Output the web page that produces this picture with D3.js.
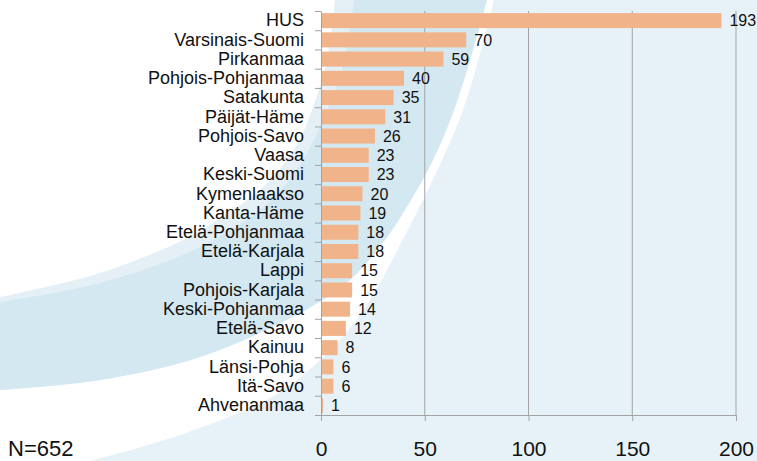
<!DOCTYPE html>
<html>
<head>
<meta charset="utf-8">
<script src="https://cdn.jsdelivr.net/npm/d3@7"></script>
<style>
  body { margin: 0; background: #fff; }
  text { font-family: "Liberation Sans", Arial, sans-serif; fill: #111; }
</style>
</head>
<body>
<div id="chart"></div>
<script>
let width = 757, height = 461;

// data
const regions = ["HUS", "Varsinais-Suomi", "Pirkanmaa", "Pohjois-Pohjanmaa", "Satakunta",
  "Päijät-Häme", "Pohjois-Savo", "Vaasa", "Keski-Suomi", "Kymenlaakso", "Kanta-Häme",
  "Etelä-Pohjanmaa", "Etelä-Karjala", "Lappi", "Pohjois-Karjala", "Keski-Pohjanmaa",
  "Etelä-Savo", "Kainuu", "Länsi-Pohja", "Itä-Savo", "Ahvenanmaa"];
const counts = [193, 70, 59, 40, 35, 31, 26, 23, 23, 20, 19, 18, 18, 15, 15, 14, 12, 8, 6, 6, 1];
const xTicks = [0, 50, 100, 150, 200];
const totalLabel = "N=652";

let svg = d3.select("#chart").append("svg")
    .attr("width", width)
    .attr("height", height);

// background swooshes
let curve = d3.line().curve(d3.curveCatmullRom);
function band(a, b) {
  // a forward, b backward, closed
  let p1 = curve(a);
  let p2 = curve(b.slice().reverse());
  return p1 + "L" + p2.slice(1) + "Z";
}

svg.append("rect").attr("width", width).attr("height", height).attr("fill", "#e7f2f8");

let outer = [[494, 0], [481, 50], [463, 110], [442, 160], [418, 210], [400, 245], [376, 290],
  [350, 328], [318, 362], [270, 398], [180, 435], [90, 461]];
svg.append("path")
    .attr("d", curve(outer) + "L0,461L0,0Z")
    .attr("fill", "#ffffff");

let whiteEdge = [[335, 0], [327, 60], [312, 110], [294, 150], [260, 190], [222, 217],
  [183, 240], [100, 273], [0, 297]];
let darkIn = [[354, 0], [342, 70], [323, 120], [300, 165], [268, 203], [200, 247],
  [100, 283], [0, 302]];
let darkOut = [[487, 0], [473, 50], [454, 110], [433, 160], [408, 205], [385, 240],
  [350, 280], [300, 313], [200, 357], [100, 380], [0, 390]];

svg.append("path").attr("d", band(whiteEdge, darkOut)).attr("fill", "#e4f0f6");
svg.append("path").attr("d", band(darkIn, darkOut)).attr("fill", "#d4e8f1");

// scales
let x = d3.scaleLinear().domain([0, 200]).range([321, 736]);
let y = d3.scaleBand().domain(regions).range([11, 415]).paddingInner(0.22).paddingOuter(0.11);
let yEdge = d3.scaleLinear().domain([0, regions.length]).range([11, 415]);

// gridlines
svg.append("g")
  .selectAll("line")
  .data(xTicks.slice(1))
  .enter().append("line")
    .attr("x1", d => x(d)).attr("x2", d => x(d))
    .attr("y1", 11).attr("y2", 415)
    .attr("stroke", "#a3a3a3")
    .attr("stroke-width", 1);

// bars
svg.append("g")
  .selectAll("rect")
  .data(counts)
  .enter().append("rect")
    .attr("x", x(0))
    .attr("y", (d, i) => y(regions[i]))
    .attr("width", d => x(d) - x(0))
    .attr("height", y.bandwidth())
    .attr("fill", "#f1b38a");

// value labels
svg.append("g")
  .selectAll("text")
  .data(counts)
  .enter().append("text")
    .attr("x", d => x(d) + 8)
    .attr("y", (d, i) => y(regions[i]) + y.bandwidth() / 2)
    .attr("dy", "0.36em")
    .style("font-size", "16px")
    .text(d => d);

// y axis: line + ticks between categories
let yAxis = svg.append("g")
    .attr("transform", `translate(${x(0)},0)`)
    .call(d3.axisLeft(yEdge).tickValues(d3.range(regions.length + 1)).tickFormat("").tickSize(6).tickSizeOuter(0));
yAxis.selectAll("line, path").attr("stroke", "#a3a3a3");

// category labels
let yLabels = svg.append("g")
    .attr("transform", `translate(${x(0)},0)`)
    .call(d3.axisLeft(y).tickSize(0).tickPadding(17));
yLabels.select(".domain").remove();
yLabels.selectAll("text")
    .style("font-size", "18px")
    .style("font-family", "'Liberation Sans', Arial, sans-serif")
    .attr("fill", "#111");

// x axis
let xAxis = svg.append("g")
    .attr("transform", "translate(0,415)")
    .call(d3.axisBottom(x).tickValues(xTicks).tickSize(6).tickSizeOuter(0).tickPadding(20));
xAxis.selectAll("line, path").attr("stroke", "#a3a3a3");
xAxis.selectAll("text")
    .style("font-size", "21px")
    .style("font-family", "'Liberation Sans', Arial, sans-serif")
    .attr("fill", "#111");

// sample size note
svg.append("text")
    .attr("x", 8)
    .attr("y", 456)
    .style("font-size", "22px")
    .text(totalLabel);
</script>
</body>
</html>
